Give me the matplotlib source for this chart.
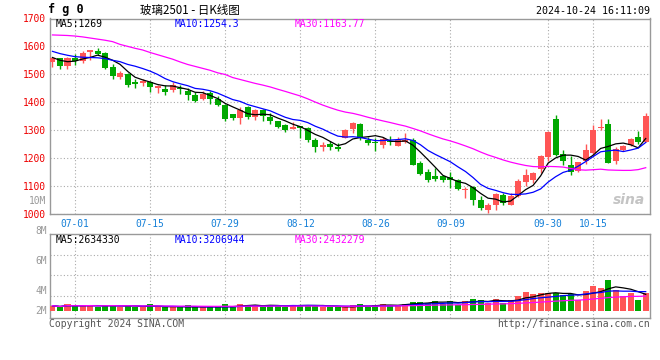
import numpy as np
import pandas as pd
import matplotlib
matplotlib.use('Agg')
import matplotlib.pyplot as plt

# trading days shown (FG0, 2024-06-26 .. 2024-10-24)
holidays = ['2024-09-16', '2024-09-17', '2024-10-01', '2024-10-02',
            '2024-10-03', '2024-10-04', '2024-10-07']
days = pd.bdate_range('2024-06-26', '2024-10-24')
days = days[~days.isin(pd.to_datetime(holidays))]

opens = [1544, 1557, 1530, 1558, 1548, 1580, 1582, 1575, 1525, 1490,
         1501, 1473, 1469, 1471, 1449, 1446, 1445, 1452, 1440, 1425,
         1411, 1432, 1412, 1389, 1357, 1343, 1383, 1348, 1371, 1348,
         1332, 1318, 1304, 1313, 1307, 1264, 1240, 1251, 1240, 1270,
         1304, 1321, 1264, 1258, 1246, 1262, 1244, 1257, 1264, 1181,
         1148, 1136, 1136, 1131, 1121, 1085, 1095, 1050, 1014, 1029,
         1068, 1032, 1064, 1113, 1121, 1160, 1202, 1339, 1214, 1175,
         1154, 1187, 1217, 1306, 1321, 1190, 1229, 1246, 1273, 1258]
highs = [1560, 1558, 1562, 1574, 1583, 1586, 1595, 1579, 1537, 1512,
         1506, 1482, 1484, 1476, 1461, 1461, 1471, 1460, 1452, 1435,
         1438, 1439, 1423, 1394, 1358, 1381, 1387, 1376, 1374, 1360,
         1333, 1320, 1329, 1315, 1312, 1270, 1257, 1261, 1252, 1304,
         1329, 1326, 1274, 1270, 1276, 1279, 1276, 1288, 1270, 1189,
         1159, 1163, 1137, 1150, 1125, 1095, 1097, 1064, 1038, 1074,
         1074, 1074, 1124, 1160, 1150, 1210, 1296, 1354, 1228, 1205,
         1186, 1250, 1318, 1338, 1338, 1238, 1247, 1270, 1296, 1360]
lows = [1526, 1519, 1517, 1533, 1540, 1552, 1568, 1520, 1482, 1483,
        1455, 1451, 1458, 1436, 1433, 1427, 1437, 1430, 1408, 1399,
        1408, 1394, 1387, 1333, 1336, 1323, 1340, 1335, 1333, 1321,
        1308, 1294, 1303, 1270, 1255, 1219, 1223, 1229, 1223, 1270,
        1290, 1264, 1246, 1226, 1236, 1246, 1243, 1252, 1175, 1140,
        1112, 1118, 1112, 1090, 1085, 1055, 1030, 1014, 1002, 1014,
        1029, 1029, 1060, 1098, 1108, 1145, 1190, 1205, 1175, 1139,
        1150, 1178, 1210, 1300, 1183, 1178, 1226, 1244, 1250, 1255]
closes = [1558, 1530, 1559, 1549, 1577, 1586, 1571, 1523, 1494, 1503,
          1461, 1465, 1476, 1455, 1458, 1437, 1462, 1446, 1426, 1405,
          1430, 1412, 1390, 1339, 1343, 1371, 1348, 1371, 1350, 1332,
          1312, 1298, 1311, 1306, 1264, 1240, 1245, 1237, 1233, 1298,
          1325, 1270, 1252, 1252, 1268, 1256, 1263, 1264, 1175, 1143,
          1121, 1124, 1121, 1119, 1088, 1089, 1048, 1018, 1032, 1071,
          1038, 1064, 1118, 1137, 1147, 1208, 1294, 1211, 1187, 1148,
          1184, 1229, 1298, 1309, 1183, 1231, 1243, 1267, 1255, 1350]
# volume, millions of lots
volumes = [0.82, 0.55, 1.09, 0.77, 0.82, 0.93, 0.55, 0.93, 0.93, 0.55,
           0.93, 0.55, 0.55, 1.09, 0.55, 0.55, 0.55, 0.55, 0.93, 0.55,
           0.55, 0.55, 0.55, 1.09, 0.55, 1.09, 0.93, 0.93, 0.55, 0.93,
           0.93, 0.55, 0.93, 0.93, 0.93, 0.93, 0.55, 0.55, 0.55, 0.55,
           0.93, 1.09, 0.55, 0.93, 1.09, 0.93, 0.93, 1.09, 1.48, 1.48,
           1.31, 1.64, 1.09, 1.64, 0.93, 1.64, 1.91, 1.75, 1.31, 1.91,
           1.31, 1.75, 2.40, 3.11, 2.73, 2.95, 2.95, 2.95, 2.57, 2.73,
           1.75, 3.28, 4.04, 3.77, 5.03, 3.39, 2.46, 2.95, 1.75, 2.84]

# moving averages before enough bars exist
ma5_head = [1560, 1550, 1545, 1547]
ma10_head = [1582, 1574, 1568, 1563, 1561, 1560, 1559, 1556, 1550]
ma30_head = [1641, 1640, 1639, 1637, 1634, 1630, 1626, 1622, 1617, 1607,
             1600, 1593, 1587, 1578, 1570, 1562, 1554, 1544, 1535, 1528,
             1521, 1514, 1505, 1499, 1488, 1481, 1474, 1467, 1461]

tick_days = ['07-01', '07-15', '07-29', '08-12', '08-26', '09-09', '09-30', '10-15']
price_ticks = [1000, 1100, 1200, 1300, 1400, 1500, 1600, 1700]

RED = '#ff5555'
GREEN = '#00a800'
GRID = '#aaaaaa'
FRAME = '#999999'
DATEC = '#1580d8'
MONO = 'DejaVu Sans Mono'

df = pd.DataFrame({'o': opens, 'h': highs, 'l': lows, 'c': closes, 'v': volumes}, index=days)
x = np.arange(len(df))
up = df.c >= df.o
cols = np.where(up, RED, GREEN)

def with_head(series, n, head):
    m = series.rolling(n).mean().to_numpy()
    m[:len(head)] = head
    return m

ma5 = with_head(df.c, 5, ma5_head)
ma10 = with_head(df.c, 10, ma10_head)
ma30 = with_head(df.c, 30, ma30_head)
vma5 = df.v.rolling(5, min_periods=1).mean()
vma10 = df.v.rolling(10, min_periods=1).mean()
vma30 = df.v.rolling(30, min_periods=1).mean()

labels = [d.strftime('%m-%d') for d in df.index]
tick_idx = [labels.index(t) for t in tick_days]

W, H = 660, 360
fig = plt.figure(figsize=(6.6, 3.6), dpi=100)
ax = fig.add_axes([50 / W, 1 - 213.5 / H, 600 / W, 195 / H])
axv = fig.add_axes([50 / W, 1 - 317.7 / H, 600 / W, 83.4 / H])

xlim = (-0.33, 79.57)

# ---- price panel
ax.vlines(x, df.l, df.h, colors=cols, linewidth=1.0, zorder=3)
ax.bar(x, (df.c - df.o).abs().clip(lower=1.2), bottom=np.minimum(df.o, df.c),
       width=0.8, color=cols, linewidth=0, zorder=4)
ax.plot(x, ma5, color='black', lw=0.9, zorder=5)
ax.plot(x, ma10, color='#0000ff', lw=0.9, zorder=5)
ax.plot(x, ma30, color='#ff00ff', lw=0.9, zorder=5)
ax.set_xlim(*xlim)
ax.set_ylim(1000, 1700)
ax.set_yticks(price_ticks)
ax.set_yticklabels([str(t) for t in price_ticks], color='#ee0000',
                   fontsize=6.9, family=MONO)
ax.set_xticks(tick_idx)
ax.set_xticklabels(tick_days, color=DATEC, fontsize=6.9, family=MONO)
ax.tick_params(length=0, pad=3)
ax.tick_params(axis='x', pad=4)
ax.grid(True, color=GRID, linestyle=(0, (1, 2)), lw=0.8)
ax.set_axisbelow(True)
for s in ax.spines.values():
    s.set_color(FRAME)
    s.set_linewidth(1)

ax.text(0.01, 0.97, 'MA5:1269', transform=ax.transAxes, color='black',
        fontsize=7, family=MONO, va='center')
ax.text(0.208, 0.97, 'MA10:1254.3', transform=ax.transAxes, color='#0000ff',
        fontsize=7, family=MONO, va='center')
ax.text(0.408, 0.97, 'MA30:1163.77', transform=ax.transAxes, color='#ff00ff',
        fontsize=7, family=MONO, va='center')
ax.text(0.965, 0.07, 'sina', transform=ax.transAxes, color='#c4c4c4',
        fontsize=10, style='italic', weight='bold', ha='center', va='center')

# ---- volume panel
axv.bar(x, df.v, width=0.8, color=cols, linewidth=0, zorder=3)
axv.plot(x, vma5, color='black', lw=0.9, zorder=4)
axv.plot(x, vma10, color='#0000ff', lw=0.9, zorder=4)
axv.plot(x, vma30, color='#ff00ff', lw=0.9, zorder=4)
axv.set_xlim(*xlim)
axv.set_ylim(-1.15, 12.52)
axv.set_yticks([2.41, 5.85, 9.13])
axv.set_yticklabels([])
axv.set_xticks(tick_idx)
axv.set_xticklabels([])
axv.tick_params(length=0)
axv.grid(True, color=GRID, linestyle=(0, (1, 2)), lw=0.8)
axv.set_axisbelow(True)
for s in axv.spines.values():
    s.set_color(FRAME)
    s.set_linewidth(1)

axv.text(0.01, 0.93, 'MA5:2634330', transform=axv.transAxes, color='black',
         fontsize=7, family=MONO, va='center')
axv.text(0.208, 0.93, 'MA10:3206944', transform=axv.transAxes, color='#0000ff',
         fontsize=7, family=MONO, va='center')
axv.text(0.408, 0.93, 'MA30:2432279', transform=axv.transAxes, color='#ff00ff',
         fontsize=7, family=MONO, va='center')

# volume axis labels (placed where the original draws them)
for lab, ypx in [('10M', 201), ('8M', 231), ('6M', 261), ('4M', 291), ('2M', 311)]:
    fig.text(46.5 / W, 1 - ypx / H, lab, color='#999999', fontsize=6.9,
             family=MONO, ha='right', va='center')

# ---- header / footer
fig.text(48 / W, 1 - 10 / H, 'f g 0', fontsize=8.5, family=MONO, weight='bold',
         va='center')
fig.text(140 / W, 1 - 10 / H, '玻璃2501 - 日K线图', fontsize=8.3,
         family=['Noto Sans CJK SC', 'DejaVu Sans'], va='center')
fig.text(650 / W, 1 - 11 / H, '2024-10-24 16:11:09', fontsize=7.2, family=MONO,
         ha='right', va='center')
fig.text(49 / W, 1 - 324 / H, 'Copyright 2024 SINA.COM', fontsize=7, family=MONO,
         color='#555555', va='center')
fig.text(650 / W, 1 - 324 / H, 'http://finance.sina.com.cn', fontsize=7,
         family=MONO, color='#555555', ha='right', va='center')

fig.savefig('out.png', dpi=100, facecolor='white')
